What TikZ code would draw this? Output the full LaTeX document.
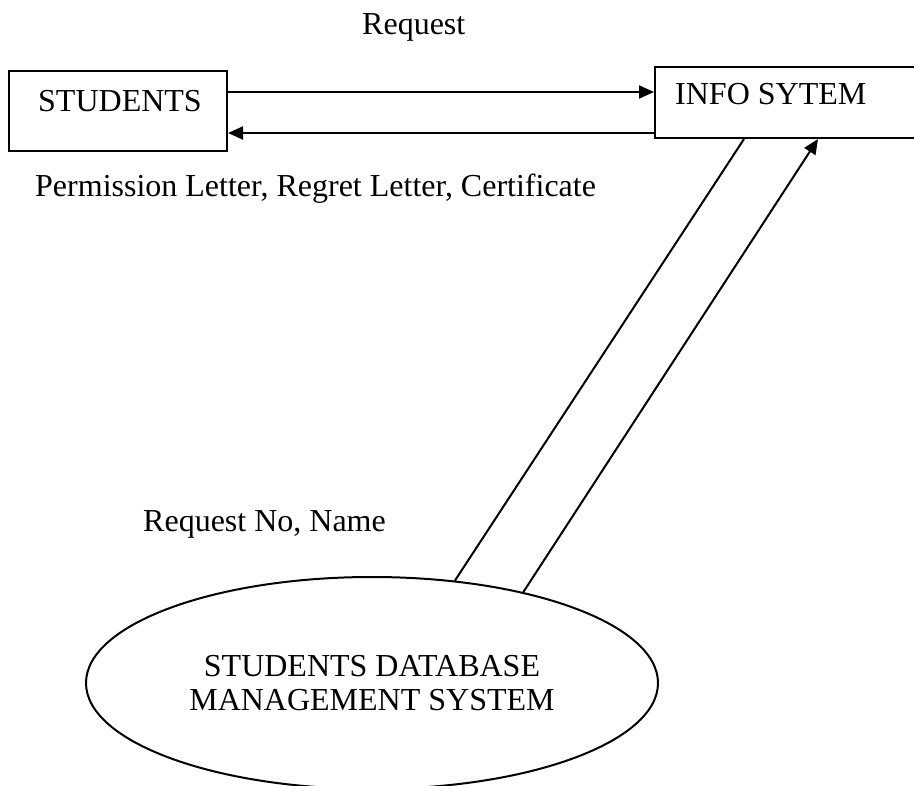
\documentclass[tikz,border=0pt]{standalone}
\usepackage{fontspec}
\setmainfont{Liberation Serif}
\usetikzlibrary{arrows.meta,shapes.geometric,calc}

\tikzset{
  entity/.style={draw, line width=2pt, rectangle, inner sep=0pt},
  store/.style={draw, line width=2pt, ellipse, inner sep=0pt, align=center},
  flow/.style={line width=2pt, -{Triangle[length=15pt,width=13pt]}},
  plainline/.style={line width=2pt},
  lbl/.style={inner sep=0pt},
}

\begin{document}
\begin{tikzpicture}[x=1pt, y=-1pt, font=\fontsize{32}{34}\selectfont]
  \useasboundingbox (0,0) rectangle (914,786);
  \clip (0,0) rectangle (914,786);

  % external entities and the system box
  \node[entity, minimum width=218pt, minimum height=80pt, anchor=north west] (students) at (8,70) {};
  \node[lbl, anchor=base west] (studentsTxt) at (38,112) {STUDENTS};

  \node[entity, minimum width=300pt, minimum height=71pt, anchor=north west] (info) at (654,66) {};
  \node[lbl, anchor=base west] (infoTxt) at (675,105) {INFO SYTEM};

  % data store
  \node[store, minimum width=572pt, minimum height=212pt] (db) at (372,683)
    {STUDENTS DATABASE\\MANAGEMENT SYSTEM};

  % attachment points
  \coordinate (reqS) at ($(students.north east)+(0,22)$);
  \coordinate (reqI) at ($(info.north west)+(0,26)$);
  \coordinate (ansS) at ($(students.north east)+(0,63)$);
  \coordinate (ansI) at ($(info.north west)+(0,67)$);
  \coordinate (outI) at ($(info.south west)+(90,0)$);
  \coordinate (inI)  at ($(info.south west)+(164,0)$);

  % flows
  \draw[flow] (reqS) -- (reqI);
  \draw[flow] (ansI) -- (ansS);
  \draw[plainline] (outI) -- (db.51.5);
  \draw[flow] (db.31.8) -- (inI);

  % flow labels
  \node[lbl, anchor=base west] (reqLbl) at (362,35) {Request};
  \node[lbl, anchor=base west] (ansLbl) at (35,197) {Permission Letter, Regret Letter, Certificate};
  \node[lbl, anchor=base west] (dbLbl) at (143,532) {Request No, Name};
\end{tikzpicture}
\end{document}
